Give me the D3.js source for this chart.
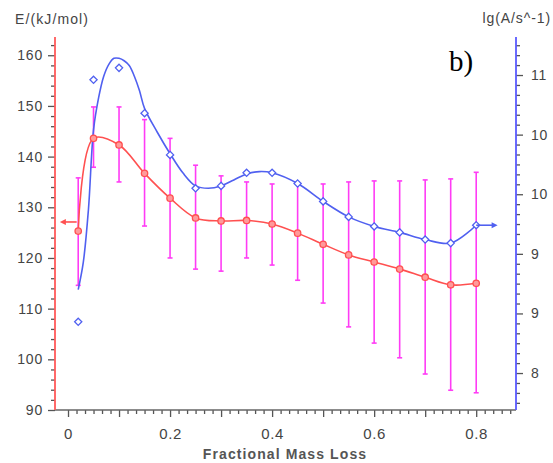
<!DOCTYPE html>
<html><head><meta charset="utf-8">
<script src="https://cdn.jsdelivr.net/npm/d3@7"></script>
<style>body{margin:0;background:#fff}</style></head>
<body>
<svg id="c" width="553" height="463"></svg>
<script>
// ---- data ----
const massLoss = [0.02,0.05,0.1,0.15,0.2,0.25,0.3,0.35,0.4,0.45,0.5,0.55,0.6,0.65,0.7,0.75,0.8];
const energy   = [125.3,143.6,142.3,136.7,131.8,127.9,127.3,127.4,126.7,124.9,122.7,120.6,119.2,117.8,116.2,114.7,115.0];
const errHigh  = [135.8,149.8,149.8,147.3,143.6,138.3,136.2,135.0,134.6,134.8,134.6,135.0,135.2,135.2,135.4,135.6,136.9];
const errLow   = [114.6,137.9,135.0,126.3,120.0,117.8,117.4,120.0,118.6,115.6,111.1,106.4,103.2,100.3,97.1,93.9,93.4];
const lgA      = [8.93,10.96,11.06,10.68,10.33,10.05,10.07,10.18,10.18,10.09,9.94,9.81,9.73,9.68,9.62,9.59,9.74];
// smoothed lg(A) curve
const lgAFitX  = [0.02,0.03,0.04,0.05,0.06,0.07,0.08,0.09,0.1,0.11,0.12,0.13,0.14,0.15,0.175,0.2,0.225,0.25,0.275,0.3,0.325,0.35,0.375,0.4,0.45,0.5,0.55,0.6,0.65,0.7,0.75,0.8];
const lgAFitY  = [9.20,9.43,9.87,10.54,10.81,10.99,11.09,11.14,11.14,11.12,11.08,10.99,10.87,10.72,10.52,10.34,10.18,10.07,10.05,10.07,10.12,10.17,10.19,10.18,10.09,9.94,9.81,9.73,9.68,9.62,9.59,9.74];
const leftTicks  = [90,100,110,120,130,140,150,160];
const rightTicks = [8.5,9,9.5,10,10.5,11];
const rightTickLabels = ["8","9","9","10","10","11"];
const xTicks = [0,0.2,0.4,0.6,0.8];
const xTickLabels = ["0","0.2","0.4","0.6","0.8"];
const redArrow  = {y:127.1, from:0.017, to:-0.016};
const blueArrow = {y:9.74, from:0.8, to:0.842};

// ---- layout ----
const svg = d3.select("#c");
const L = 55, R = 516, T = 37, B = 410;
const x  = d3.scaleLinear().domain([-0.0255, 0.878]).range([L, R]);
const yL = d3.scaleLinear().domain([90, 163.6]).range([B, T]);
const yR = d3.scaleLinear().domain([8.19, 11.319]).range([B, T]);
const font = "'Liberation Sans', Arial, sans-serif";
const tickCol = "#555", labCol = "#444";

function styleAxis(g, col){
  g.selectAll(".tick line").attr("stroke", tickCol).attr("stroke-width",1.3);
  g.selectAll(".tick text").attr("fill", labCol).style("font-family", font);
  g.select(".domain").remove();
}

// minor ticks
const leftMinor = d3.range(90,163.6,2).filter(v=>v%10!==0);
svg.append("g").attr("transform",`translate(${L},0)`)
  .call(d3.axisLeft(yL).tickValues(leftMinor).tickSize(4).tickFormat(""))
  .call(g=>styleAxis(g));
svg.append("g").attr("transform",`translate(${L},0)`)
  .call(d3.axisLeft(yL).tickValues(leftTicks).tickSize(7).tickPadding(5))
  .call(g=>styleAxis(g))
  .selectAll("text").style("font-size","14px").style("letter-spacing","0.8px");

const rightMinor = d3.range(0, 38).map(i=>8.25+i/12).filter(v=>v<11.319 && v>8.19 && Math.abs(v*2-Math.round(v*2))>1e-6);
svg.append("g").attr("transform",`translate(${R},0)`)
  .call(d3.axisRight(yR).tickValues(rightMinor).tickSize(4).tickFormat(""))
  .call(g=>styleAxis(g));
svg.append("g").attr("transform",`translate(${R},0)`)
  .call(d3.axisRight(yR).tickValues(rightTicks).tickSize(7).tickPadding(8).tickFormat((d,i)=>rightTickLabels[i]))
  .call(g=>styleAxis(g))
  .selectAll("text").style("font-size","14px").style("letter-spacing","0.8px");

const xMinor = d3.range(1,53).map(i=>i/60).filter(v=>Math.abs(v*10-Math.round(v*10))>1e-6);
const xMid = [0.1,0.3,0.5,0.7];
svg.append("g").attr("transform",`translate(0,${B})`)
  .call(d3.axisBottom(x).tickValues(xMinor).tickSize(4).tickFormat(""))
  .call(g=>styleAxis(g));
svg.append("g").attr("transform",`translate(0,${B})`)
  .call(d3.axisBottom(x).tickValues(xMid).tickSize(7).tickFormat(""))
  .call(g=>styleAxis(g));
svg.append("g").attr("transform",`translate(0,${B})`)
  .call(d3.axisBottom(x).tickValues(xTicks).tickSize(7).tickPadding(11).tickFormat((d,i)=>xTickLabels[i]))
  .call(g=>styleAxis(g))
  .selectAll("text").style("font-size","15px").style("letter-spacing","0.6px");

// axis lines
svg.append("line").attr("x1",L).attr("x2",R).attr("y1",B).attr("y2",B).attr("stroke","#666").attr("stroke-width",1.6);
svg.append("line").attr("x1",L).attr("x2",L).attr("y1",T).attr("y2",B).attr("stroke","#ff5a5a").attr("stroke-width",1.8);
svg.append("line").attr("x1",R).attr("x2",R).attr("y1",T).attr("y2",B).attr("stroke","#5a5aff").attr("stroke-width",1.8);

// error bars
const magenta = "#ff3cf5";
const eb = svg.append("g").attr("stroke", magenta).attr("stroke-width",1.6);
massLoss.forEach((m,i)=>{
  const cx = x(m);
  eb.append("line").attr("x1",cx).attr("x2",cx).attr("y1",yL(errHigh[i])).attr("y2",yL(errLow[i]));
  eb.append("line").attr("x1",cx-2.5).attr("x2",cx+2.5).attr("y1",yL(errHigh[i])).attr("y2",yL(errHigh[i]));
  eb.append("line").attr("x1",cx-2.5).attr("x2",cx+2.5).attr("y1",yL(errLow[i])).attr("y2",yL(errLow[i]));
});

// red curve
const red = "#ff5050", blue = "#5060f0";
svg.append("path").datum(massLoss.map((m,i)=>[m,energy[i]]))
  .attr("fill","none").attr("stroke",red).attr("stroke-width",1.6)
  .attr("d", d3.line().x(d=>x(d[0])).y(d=>yL(d[1])).curve(d3.curveCatmullRom.alpha(0.5)));
// blue curve
svg.append("path").datum(lgAFitX.map((m,i)=>[m,lgAFitY[i]]))
  .attr("fill","none").attr("stroke",blue).attr("stroke-width",1.6)
  .attr("d", d3.line().x(d=>x(d[0])).y(d=>yR(d[1])).curve(d3.curveCatmullRom.alpha(0.5)));

// markers
svg.append("g").selectAll("circle").data(massLoss).join("circle")
  .attr("cx",d=>x(d)).attr("cy",(d,i)=>yL(energy[i])).attr("r",3.2)
  .attr("fill","#ff9a9a").attr("stroke",red).attr("stroke-width",1.3);
svg.append("g").selectAll("path").data(massLoss).join("path")
  .attr("transform",(d,i)=>`translate(${x(d)},${yR(lgA[i])})`)
  .attr("d","M0,-3.6L3.6,0L0,3.6L-3.6,0Z")
  .attr("fill","#fff").attr("stroke",blue).attr("stroke-width",1.3);

// arrows
function arrow(x1,x2,y,col){
  const dir = Math.sign(x2-x1);
  svg.append("line").attr("x1",x1).attr("x2",x2-dir*4).attr("y1",y).attr("y2",y).attr("stroke",col).attr("stroke-width",1.6);
  svg.append("path").attr("d",`M${x2},${y}L${x2-dir*6},${y-3}L${x2-dir*6},${y+3}Z`).attr("fill",col);
}
arrow(x(redArrow.from), x(redArrow.to), yL(redArrow.y), red);
arrow(x(blueArrow.from), x(blueArrow.to), yR(blueArrow.y), blue);

// texts
svg.append("text").attr("x",15).attr("y",24).text("E/(kJ/mol)")
  .style("font-family",font).style("font-size","14px").style("letter-spacing","1.1px").attr("fill",labCol);
svg.append("text").attr("x",551).attr("y",23).attr("text-anchor","end").text("lg(A/s^-1)")
  .style("font-family",font).style("font-size","14px").style("letter-spacing","0.9px").attr("fill",labCol);
svg.append("text").attr("x",285).attr("y",459).attr("text-anchor","middle").text("Fractional Mass Loss")
  .style("font-family",font).style("font-size","14px").style("font-weight","bold").style("letter-spacing","1.1px").attr("fill","#555");
svg.append("text").attr("x",449).attr("y",71).text("b)")
  .style("font-family","'Liberation Serif','Times New Roman',serif").style("font-size","29px").attr("fill","#000");
</script>
</body></html>
